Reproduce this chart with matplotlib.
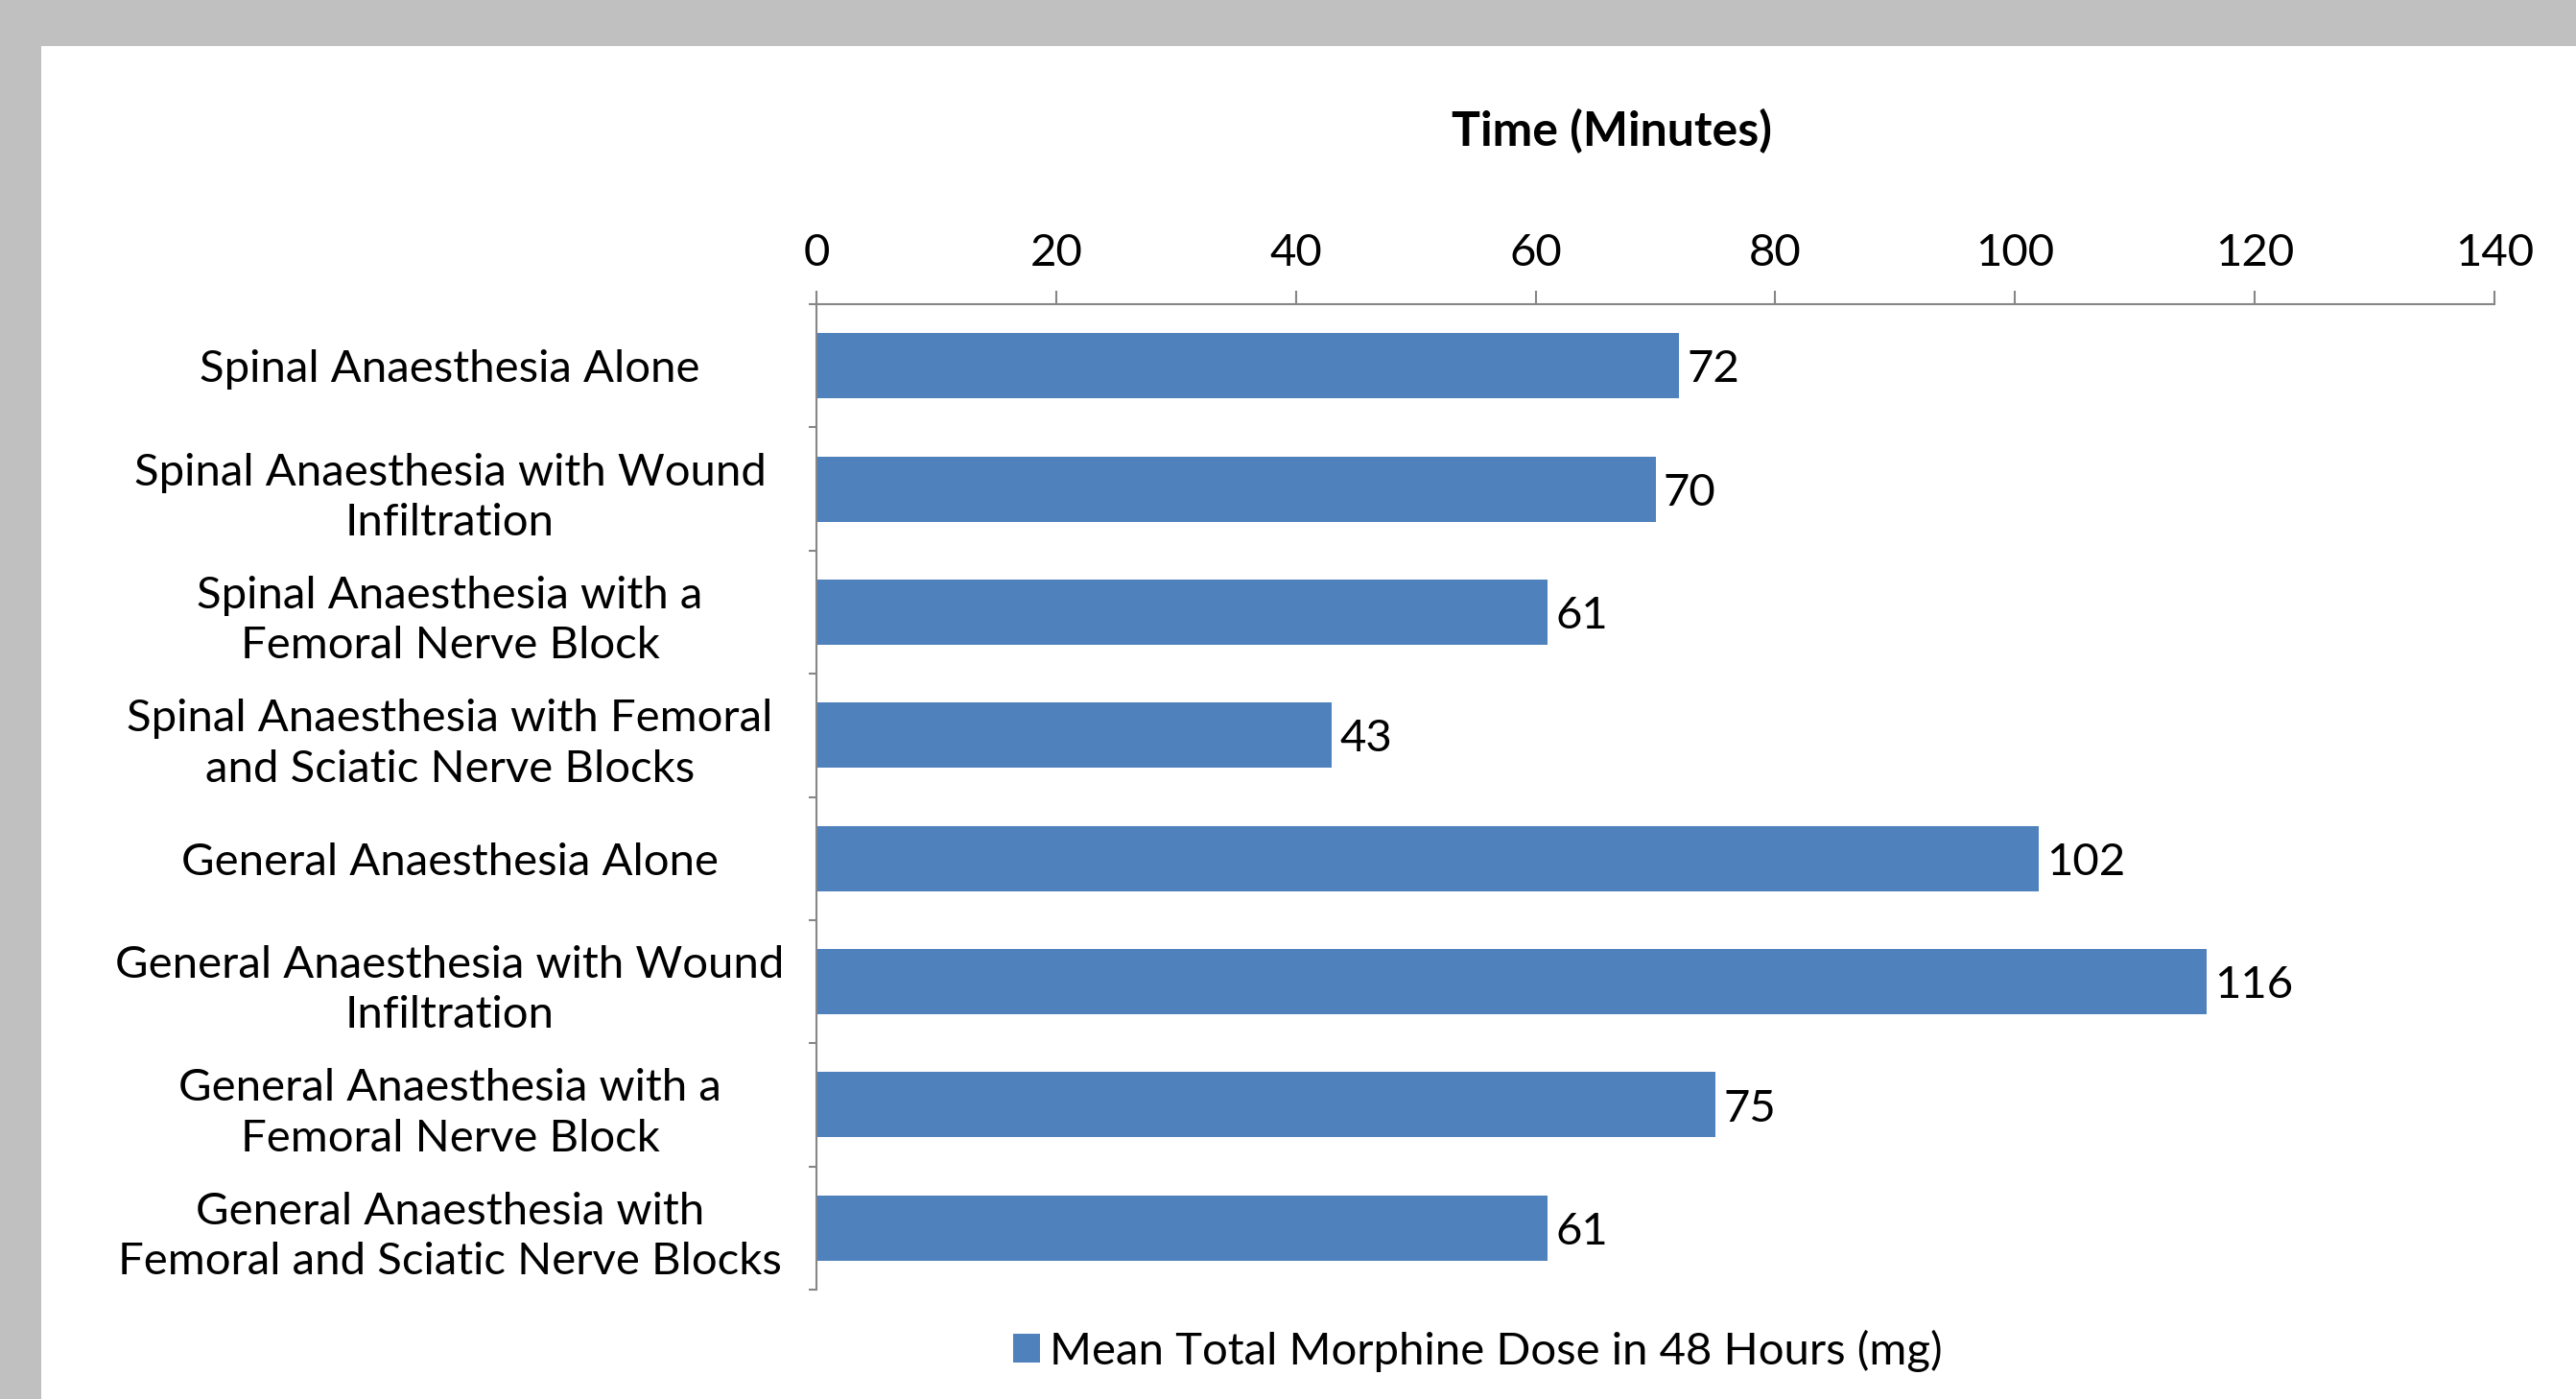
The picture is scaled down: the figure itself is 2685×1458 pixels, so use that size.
import matplotlib
matplotlib.use("Agg")
import matplotlib.pyplot as plt
from matplotlib.patches import Rectangle, Patch

plt.rcParams['font.family'] = ['Lato', 'DejaVu Sans']

# Data
categories = [
    "Spinal Anaesthesia Alone",
    "Spinal Anaesthesia with Wound\nInfiltration",
    "Spinal Anaesthesia with a\nFemoral Nerve Block",
    "Spinal Anaesthesia with Femoral\nand Sciatic Nerve Blocks",
    "General Anaesthesia Alone",
    "General Anaesthesia with Wound\nInfiltration",
    "General Anaesthesia with a\nFemoral Nerve Block",
    "General Anaesthesia with\nFemoral and Sciatic Nerve Blocks",
]
morphine_dose = [72, 70, 61, 43, 102, 116, 75, 61]
x_ticks = [0, 20, 40, 60, 80, 100, 120, 140]
series_name = "Mean Total Morphine Dose in 48 Hours (mg)"

bar_color = "#4F81BD"
axis_color = "#868686"
fs = 34
W, H = 2685, 1458

fig = plt.figure(figsize=(W / 100, H / 100), dpi=100)
fig.patch.set_facecolor("#C0C0C0")
# white chart area inside the gray frame
fig.patches.append(Rectangle((43 / W, 0), 1, 1 - 48 / H, transform=fig.transFigure,
                             facecolor="white", edgecolor="none", zorder=0))

ax = fig.add_axes([851 / W, 1 - 1344 / H, (2600 - 851) / W, (1344 - 317) / H])
ax.set_facecolor("none")
ax.set_zorder(2)

y = list(range(len(categories)))
ax.barh(y, morphine_dose, height=0.53, color=bar_color)

for yi, v in zip(y, morphine_dose):
    ax.annotate(str(v), xy=(v, yi), xytext=(6, -3), textcoords="offset points",
                va="center", ha="left", fontsize=fs)

ax.set_xlim(0, 140)
ax.set_ylim(len(categories) - 0.5, -0.5)

# x axis on top
ax.xaxis.tick_top()
ax.set_xticks(x_ticks)
ax.set_xticklabels([str(t) for t in x_ticks], fontsize=fs)
ax.tick_params(axis="x", direction="out", length=10, width=1.5, color=axis_color, pad=13)

# y labels centred in a block left of the axis, ticks at category boundaries
ax.set_yticks(y)
ax.set_yticklabels(categories, fontsize=fs, ha="center", multialignment="center",
                   linespacing=1.3)
ax.tick_params(axis="y", which="major", length=0, pad=275)
ax.set_yticks([i - 0.5 for i in range(len(categories) + 1)], minor=True)
ax.tick_params(axis="y", which="minor", direction="out", length=6, width=1.5, color=axis_color)

for side in ["right", "bottom"]:
    ax.spines[side].set_visible(False)
for side in ["top", "left"]:
    ax.spines[side].set_color(axis_color)
    ax.spines[side].set_linewidth(1.5)

fig.text(1680 / W, 1 - 137 / H, "Time (Minutes)", ha="center", va="center",
         fontsize=fs + 2, fontweight="bold")

fig.legend(handles=[Patch(facecolor=bar_color, label=series_name)],
           loc="center", bbox_to_anchor=(1540 / W, 1 - 1408 / H), frameon=False,
           fontsize=fs, handlelength=0.6, handleheight=0.6, handletextpad=0.2)

fig.savefig("out.png", dpi=100, facecolor=fig.get_facecolor())
